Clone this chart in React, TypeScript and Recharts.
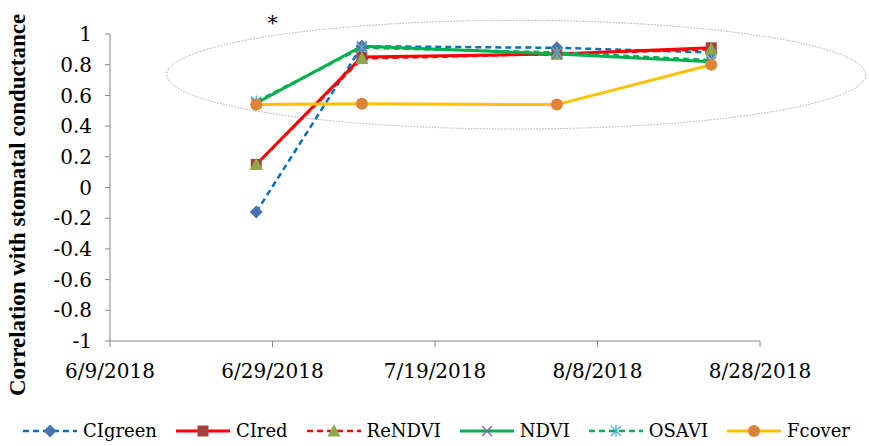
import React from "react";
import { LineChart, Line, XAxis, YAxis, ReferenceArea, ReferenceDot } from "recharts";

const dates = ["6/27/2018", "7/10/2018", "8/3/2018", "8/22/2018"];
const ciGreen = [-0.16, 0.92, 0.91, 0.88];
const ciRed = [0.15, 0.85, 0.87, 0.91];
const reNdvi = [0.15, 0.84, 0.87, 0.9];
const ndvi = [0.55, 0.92, 0.87, 0.82];
const osavi = [0.56, 0.91, 0.88, 0.83];
const fcover = [0.54, 0.545, 0.54, 0.8];

const xTickDates = ["6/9/2018", "6/29/2018", "7/19/2018", "8/8/2018", "8/28/2018"];
const yTicks = [-1, -0.8, -0.6, -0.4, -0.2, 0, 0.2, 0.4, 0.6, 0.8, 1];

const toTs = (s: string) => {
  const [m, d, y] = s.split("/").map(Number);
  return Date.UTC(y, m - 1, d);
};
const fmt = (t: number) => {
  const d = new Date(t);
  return `${d.getUTCMonth() + 1}/${d.getUTCDate()}/${d.getUTCFullYear()}`;
};

const data = dates.map((d, i) => ({
  t: toTs(d),
  CIgreen: ciGreen[i],
  CIred: ciRed[i],
  ReNDVI: reNdvi[i],
  NDVI: ndvi[i],
  OSAVI: osavi[i],
  Fcover: fcover[i],
}));

type Marker = "diamond" | "square" | "triangle" | "x" | "star" | "circle";

const drawMarker = (kind: Marker, cx: number, cy: number, color: string, key?: any) => {
  switch (kind) {
    case "diamond":
      return <path key={key} d={`M${cx},${cy - 6.5}L${cx + 6.5},${cy}L${cx},${cy + 6.5}L${cx - 6.5},${cy}Z`} fill={color} />;
    case "square":
      return <rect key={key} x={cx - 5.5} y={cy - 5.5} width={11} height={11} fill={color} />;
    case "triangle":
      return <path key={key} d={`M${cx},${cy - 7}L${cx + 6.5},${cy + 5.5}L${cx - 6.5},${cy + 5.5}Z`} fill={color} />;
    case "x":
      return (
        <g key={key} stroke={color} strokeWidth={1.3}>
          <line x1={cx - 5} y1={cy - 5} x2={cx + 5} y2={cy + 5} />
          <line x1={cx - 5} y1={cy + 5} x2={cx + 5} y2={cy - 5} />
        </g>
      );
    case "star":
      return (
        <g key={key} stroke={color} strokeWidth={1.3}>
          <line x1={cx - 5} y1={cy - 5} x2={cx + 5} y2={cy + 5} />
          <line x1={cx - 5} y1={cy + 5} x2={cx + 5} y2={cy - 5} />
          <line x1={cx} y1={cy - 6} x2={cx} y2={cy + 6} />
        </g>
      );
    case "circle":
    default:
      return <circle key={key} cx={cx} cy={cy} r={6} fill={color} />;
  }
};

const seriesNames = ["CIgreen", "CIred", "ReNDVI", "NDVI", "OSAVI", "Fcover"];
const lineColors = ["#0070C0", "#FF0000", "#FF0000", "#00B050", "#00B050", "#FFC000"];
const markerColors = ["#4A73AE", "#A6403D", "#8EA84F", "#8064A2", "#4BACC6", "#DD8439"];
const markerKinds: Marker[] = ["diamond", "square", "triangle", "x", "star", "circle"];
const dashed = [true, false, true, false, true, false];

const series = seriesNames.map((name, i) => ({
  name,
  line: lineColors[i],
  marker: markerColors[i],
  kind: markerKinds[i],
  dash: dashed[i],
}));

const FONT = "'DejaVu Serif', serif";
const TITLE_FONT = "'Liberation Serif', serif";

const LegendIcon = ({ s }: { s: (typeof series)[number] }) => (
  <svg width={56} height={20} style={{ display: "block" }}>
    <line x1={1} y1={10} x2={55} y2={10} stroke={s.line} strokeWidth={s.dash ? 2.5 : 3} strokeDasharray={s.dash ? "6 4" : undefined} />
    {drawMarker(s.kind, 28, 10, s.marker)}
  </svg>
);

export default function App() {
  return (
    <div style={{ position: "absolute", left: 0, top: 0, width: 869, height: 446, background: "#fff" }}>
      <LineChart width={869} height={446} data={data} margin={{ top: 34, right: 109, left: 0, bottom: 65 }}>
        <XAxis
          dataKey="t"
          type="number"
          domain={[toTs(xTickDates[0]), toTs(xTickDates[xTickDates.length - 1])]}
          ticks={xTickDates.map(toTs)}
          tickFormatter={fmt}
          height={40}
          stroke="#868686"
          tickSize={6}
          tickMargin={17}
          tick={{ fill: "#000", fontSize: 20, fontFamily: FONT }}
          interval={0}
        />
        <YAxis
          type="number"
          domain={[-1, 1]}
          ticks={yTicks}
          width={110}
          stroke="#868686"
          tickSize={5}
          tickMargin={13}
          tick={{ fill: "#000", fontSize: 20, fontFamily: FONT }}
          interval={0}
          label={{
            content: () => (
              <text
                x={25}
                y={205}
                transform="rotate(-90 25 205)"
                textAnchor="middle"
                fontFamily={TITLE_FONT}
                fontWeight="bold"
                fontSize={23}
                fill="#000"
              >
                Correlation with stomatal conductance
              </text>
            ),
          }}
        />
        <ReferenceArea
          x1={toTs("6/16/2018")}
          x2={toTs("9/10/2018")}
          y1={0.381}
          y2={1.089}
          ifOverflow="visible"
          shape={(p: any) => (
            <ellipse
              cx={p.x + p.width / 2}
              cy={p.y + p.height / 2}
              rx={Math.abs(p.width) / 2}
              ry={Math.abs(p.height) / 2}
              fill="none"
              stroke="#A6A6A6"
              strokeWidth={1}
              strokeDasharray="1.5 1.5"
            />
          )}
        />
        {series.map((s) => (
          <Line
            key={s.name}
            dataKey={s.name}
            type="linear"
            stroke={s.line}
            strokeWidth={s.dash ? 2.5 : 3}
            strokeDasharray={s.dash ? "6 4" : undefined}
            isAnimationActive={false}
            dot={(p: any) => drawMarker(s.kind, p.cx, p.cy, s.marker, `${s.name}-${p.index}`)}
            activeDot={false}
          />
        ))}
        <ReferenceDot
          x={toTs("6/29/2018")}
          y={1.1}
          ifOverflow="visible"
          shape={(p: any) => (
            <text x={p.cx} y={p.cy + 11} textAnchor="middle" fontSize={20} fontFamily={FONT} fill="#000">
              *
            </text>
          )}
        />
      </LineChart>
      <div
        style={{
          position: "absolute",
          left: 22,
          top: 420,
          display: "flex",
          alignItems: "center",
          fontFamily: FONT,
          fontSize: 18,
          color: "#000",
          whiteSpace: "nowrap",
        }}
      >
        {series.map((s) => (
          <div key={s.name} style={{ display: "flex", alignItems: "center", marginRight: 18 }}>
            <LegendIcon s={s} />
            <span style={{ marginLeft: 5 }}>{s.name}</span>
          </div>
        ))}
      </div>
    </div>
  );
}
